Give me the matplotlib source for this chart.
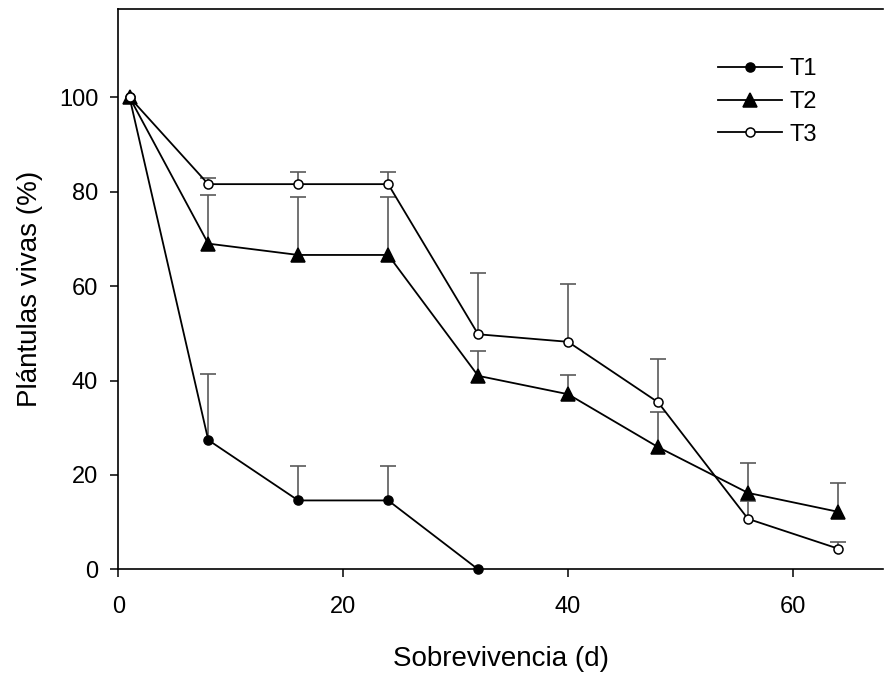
import matplotlib
matplotlib.use("Agg")
import matplotlib.pyplot as plt
import numpy as np

plt.rcParams["font.family"] = ["Liberation Sans Narrow", "Liberation Sans", "DejaVu Sans"]

days = [1, 8, 16, 24, 32, 40, 48, 56, 64]

t1 = [100, 27.4, 14.6, 14.6, 0]
t1_err = [0, 13.9, 7.3, 7.3, 0]

t2 = [100, 69.0, 66.6, 66.6, 41.0, 37.1, 25.9, 16.2, 12.2]
t2_err = [0, 10.2, 12.3, 12.3, 5.3, 4.1, 7.4, 6.4, 6.1]

t3 = [100, 81.6, 81.6, 81.6, 49.8, 48.2, 35.4, 10.7, 4.4]
t3_err = [0, 1.4, 2.5, 2.5, 12.9, 12.2, 9.2, 3.8, 1.4]

fig = plt.figure(figsize=(8.84, 6.77), dpi=100)
ax = fig.add_axes([0.1338, 0.159, 0.865, 0.8277])

err_color = "#5a5a5a"


def draw(x, y, err, marker, face, size, label):
    x = np.asarray(x, dtype=float)
    y = np.asarray(y, dtype=float)
    err = np.asarray(err, dtype=float)
    keep = err > 0
    # upper error bars only: stem plus a cap on top
    ax.vlines(x[keep], y[keep], y[keep] + err[keep], color=err_color,
              lw=1.2, zorder=1)
    ax.plot(x[keep], y[keep] + err[keep], ls="none", marker="_",
            markersize=12, markeredgewidth=1.2, color=err_color, zorder=1)
    ax.plot(x, y, color="black", lw=1.3, marker=marker, markersize=size,
            markerfacecolor=face, markeredgecolor="black", markeredgewidth=1.1,
            label=label, zorder=3, clip_on=False)


draw(days[:len(t1)], t1, t1_err, "o", "black", 6.5, "T1")
draw(days, t2, t2_err, "^", "black", 10, "T2")
draw(days, t3, t3_err, "o", "white", 6.5, "T3")

ax.set_xlim(0, 68)
ax.set_ylim(0, 118.7)
ax.set_xticks([0, 20, 40, 60])
ax.set_yticks([0, 20, 40, 60, 80, 100])
ax.spines["right"].set_visible(False)
for s in ["left", "bottom", "top"]:
    ax.spines[s].set_linewidth(1.2)
ax.tick_params(direction="out", length=5.5, width=1.1, labelsize=17)
ax.tick_params(axis="x", pad=14)
ax.tick_params(axis="y", pad=9)

ax.set_xlabel("Sobrevivencia (d)", fontsize=20, labelpad=20)
ax.set_ylabel("Plántulas vivas (%)", fontsize=20, labelpad=11)

ax.legend(loc="upper left", bbox_to_anchor=(0.757, 0.95), frameon=False,
          fontsize=17, handlelength=2.7, handletextpad=0.3, labelspacing=0.45)

fig.savefig("out.png", dpi=100)
